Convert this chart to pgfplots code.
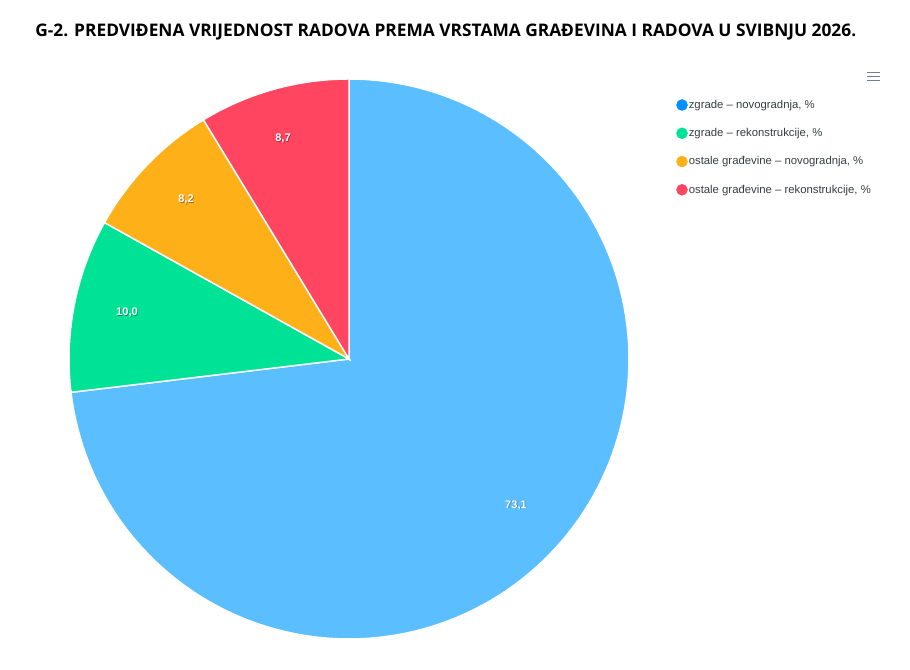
\documentclass[border=0pt]{standalone}
\usepackage{pgfplots}
\pgfplotsset{compat=1.18}
\usepackage{fontspec}
\setmainfont{Liberation Sans}
\newfontfamily\titlefont{Open Sans}
\definecolor{cblue}{HTML}{5BBEFF}
\definecolor{cbluel}{HTML}{008FFB}
\definecolor{cgreen}{HTML}{00E396}
\definecolor{corange}{HTML}{FEB019}
\definecolor{cred}{HTML}{FF4560}
\definecolor{ctext}{HTML}{373D3F}
\definecolor{cmenu}{HTML}{6E8192}
% shares in % : 73.1, 10.0, 8.2, 8.7 ; clockwise from 12 o'clock
\begin{document}
\begin{tikzpicture}
\begin{axis}[
  scale only axis, width=682.5pt, height=502.5pt,
  xmin=0, xmax=910, ymin=0, ymax=670,
  hide axis, clip=false,
  legend cell align=left,
  legend style={at={(axis cs:672,575)}, anchor=north west, draw=none, fill=none,
    font=\fontsize{8.5}{10}\selectfont, text=ctext, row sep=10.6pt,
    nodes={inner sep=0.8pt, text height=7pt, text depth=2pt}},
  legend image code/.code={\fill[#1] (0pt,0pt) circle (4.1pt);},
]
\path (axis cs:0,0) rectangle (axis cs:910,670);
% slices (angle = 90 - 3.6*cumulative percentage)
\addplot[forget plot, fill=cblue, draw=white, line width=1.1pt, domain={90-3.6*73.1}:{90}, samples=140, variable=\t]
  ({349+280*cos(\t)},{311+280*sin(\t)}) -- (axis cs:349,311) -- cycle;
\addplot[forget plot, fill=cgreen, draw=white, line width=1.1pt, domain={90-3.6*(73.1+10.0)}:{90-3.6*73.1}, samples=30, variable=\t]
  ({349+280*cos(\t)},{311+280*sin(\t)}) -- (axis cs:349,311) -- cycle;
\addplot[forget plot, fill=corange, draw=white, line width=1.1pt, domain={90-3.6*(73.1+10.0+8.2)}:{90-3.6*(73.1+10.0)}, samples=30, variable=\t]
  ({349+280*cos(\t)},{311+280*sin(\t)}) -- (axis cs:349,311) -- cycle;
\addplot[forget plot, fill=cred, draw=white, line width=1.1pt, domain={90-3.6*(73.1+10.0+8.2+8.7)}:{90-3.6*(73.1+10.0+8.2)}, samples=30, variable=\t]
  ({349+280*cos(\t)},{311+280*sin(\t)}) -- (axis cs:349,311) -- cycle;
% legend
\addlegendimage{cbluel}\addlegendentry{zgrade – novogradnja, \%}
\addlegendimage{cgreen}\addlegendentry{zgrade – rekonstrukcije, \%}
\addlegendimage{corange}\addlegendentry{ostale građevine – novogradnja, \%}
\addlegendimage{cred}\addlegendentry{ostale građevine – rekonstrukcije, \%}
% data labels
\foreach \x/\y/\t in {516/165/{73,1}, 127/357/{10,0}, 186/470/{8,2}, 283/531/{8,7}} {
  \edef\tmp{\noexpand\node[text=black, opacity=0.35, font=\noexpand\bfseries\noexpand\fontsize{8.3}{10}\noexpand\selectfont] at (axis cs:\x+0.8,\y-0.8) {\t};
  \noexpand\node[text=white, font=\noexpand\bfseries\noexpand\fontsize{8.3}{10}\noexpand\selectfont] at (axis cs:\x,\y) {\t};}
  \tmp
}
% title
\node[anchor=base west, inner sep=0pt, font=\titlefont\bfseries\fontsize{13}{15}\selectfont] at (axis cs:35,633.5)
  {G-2. PREDVIĐENA VRIJEDNOST RADOVA PREMA VRSTAMA GRAĐEVINA I RADOVA U SVIBNJU 2026.};
% menu icon
\draw[cmenu, line width=1.1pt] (axis cs:867,597.5) -- (axis cs:880,597.5)
  (axis cs:867,593.5) -- (axis cs:880,593.5) (axis cs:867,589.5) -- (axis cs:880,589.5);
\end{axis}
\end{tikzpicture}
\end{document}
